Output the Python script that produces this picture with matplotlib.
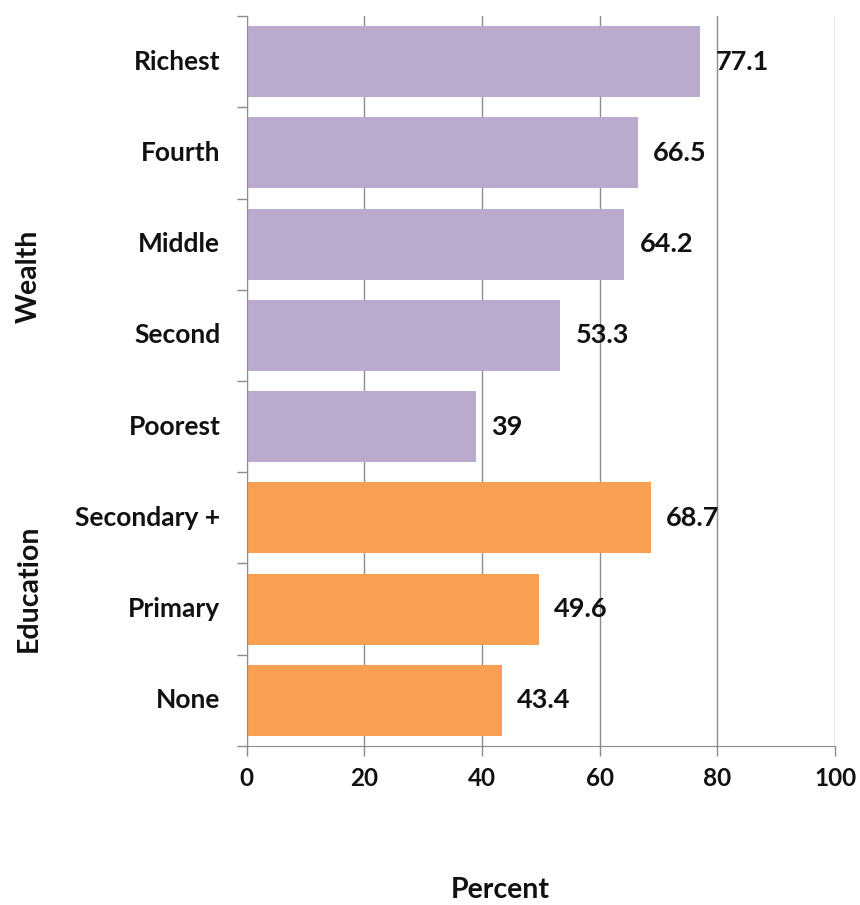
import matplotlib.pyplot as plt
import numpy as np

plt.rcParams['font.family'] = ['Lato', 'DejaVu Sans']
plt.rcParams['font.weight'] = 'bold'

# categories top to bottom
categories = ['Richest', 'Fourth', 'Middle', 'Second', 'Poorest',
              'Secondary +', 'Primary', 'None']
values = [77.1, 66.5, 64.2, 53.3, 39, 68.7, 49.6, 43.4]
value_labels = ['77.1', '66.5', '64.2', '53.3', '39', '68.7', '49.6', '43.4']
groups = ['Wealth'] * 5 + ['Education'] * 3
group_colors = {'Wealth': '#BAAACE', 'Education': '#F7A052'}
xticks = [0, 20, 40, 60, 80, 100]

fig = plt.figure(figsize=(8.6, 9.05), dpi=100)
ax = fig.add_axes([0.287, 0.1757, 0.684, 0.8066])

n = len(categories)
y = np.arange(n)
colors = [group_colors[g] for g in groups]
ax.barh(y, values, height=0.78, color=colors, zorder=2)

for yi, v, lab in zip(y, values, value_labels):
    ax.annotate(lab, (v, yi), xytext=(11, 0), textcoords='offset points',
                va='center', ha='left', fontsize=19.5, fontweight='bold',
                color='#111111')

ax.set_xlim(0, 100)
ax.set_ylim(n - 0.5, -0.5)
ax.set_xticks(xticks)
ax.set_xticklabels([str(t) for t in xticks], fontsize=17.5, fontweight='bold')
ax.xaxis.grid(True, color='#8c8c8c', linewidth=1, zorder=0)

# category names as plain text, tick marks on the group boundaries
ax.set_yticks(np.arange(n + 1) - 0.5)
ax.set_yticklabels([])
for yi, c in zip(y, categories):
    ax.text(-0.045, yi, c, transform=ax.get_yaxis_transform(), ha='right',
            va='center', fontsize=19, fontweight='bold', color='#111111')

ax.tick_params(axis='y', length=7, color='#8c8c8c', width=1)
ax.tick_params(axis='x', length=7, color='#8c8c8c', width=1, pad=8,
               labelcolor='#111111')
for side in ['top', 'right']:
    ax.spines[side].set_visible(False)
for side in ['left', 'bottom']:
    ax.spines[side].set_color('#8c8c8c')

fig.text(0.033, 1 - 276 / 905, 'Wealth', rotation=90, ha='center',
         va='center', fontsize=20.5, fontweight='bold', color='#111111')
fig.text(0.033, 1 - 588 / 905, 'Education', rotation=90, ha='center',
         va='center', fontsize=20.5, fontweight='bold', color='#111111')
fig.text(0.582, 1 - 890 / 905, 'Percent', ha='center', va='center',
         fontsize=20.5, fontweight='bold', color='#111111')

fig.savefig('out.png', dpi=100)
